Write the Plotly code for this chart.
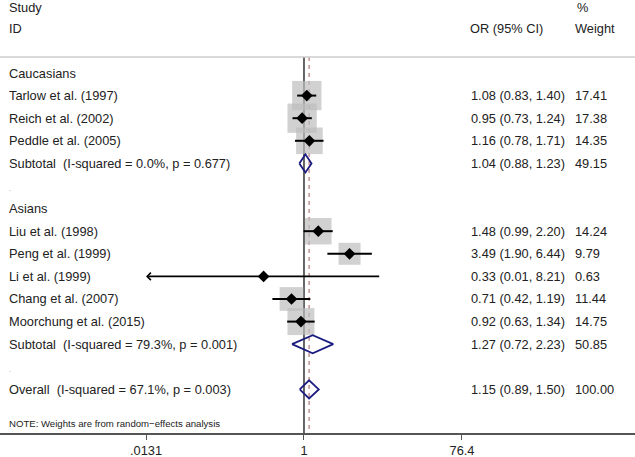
import math
import plotly.graph_objects as go

# ---- data ----
row_labels = ["Caucasians", "Tarlow et al. (1997)", "Reich et al. (2002)", "Peddle et al. (2005)",
              "Subtotal\u00a0\u00a0(I-squared = 0.0%, p = 0.677)", ".",
              "Asians", "Liu et al. (1998)", "Peng et al. (1999)", "Li et al. (1999)",
              "Chang et al. (2007)", "Moorchung et al. (2015)",
              "Subtotal\u00a0\u00a0(I-squared = 79.3%, p = 0.001)", ".",
              "Overall\u00a0\u00a0(I-squared = 67.1%, p = 0.003)"]

study_rows = [1, 2, 3, 7, 8, 9, 10, 11]
study_or = [1.08, 0.95, 1.16, 1.48, 3.49, 0.33, 0.71, 0.92]
study_lo = [0.83, 0.73, 0.78, 0.99, 1.90, 0.01, 0.42, 0.63]
study_hi = [1.40, 1.24, 1.71, 2.20, 6.44, 8.21, 1.19, 1.34]
study_wt = [17.41, 17.38, 14.35, 14.24, 9.79, 0.63, 11.44, 14.75]

pool_rows = [4, 12, 14]
pool_or = [1.04, 1.27, 1.15]
pool_lo = [0.88, 0.72, 0.89]
pool_hi = [1.23, 2.23, 1.50]
pool_wt = [49.15, 50.85, 100.00]

tick_vals = [0.0131, 1, 76.4]
tick_text = [".0131", "1", "76.4"]
overall_or = 1.15
axis_min = 0.0131

ROW_TOP, ROW_BOT = -3.23, 15.93
FONT = "Liberation Sans, Arial, sans-serif"
TXT = "#222222"
FS = 12.8

fig = go.Figure()

# reference lines (below boxes)
fig.add_trace(go.Scatter(x=[1, 1], y=[-0.71, ROW_BOT], mode="lines",
                         line=dict(color="black", width=1.2), hoverinfo="skip", showlegend=False))
fig.add_trace(go.Scatter(x=[overall_or, overall_or], y=[-0.71, ROW_BOT], mode="lines",
                         line=dict(color="#a85a5a", width=1, dash="4px,4px"), hoverinfo="skip", showlegend=False))

# weight boxes
sizes = [29.3 * math.sqrt(w / 17.41) for w in study_wt]
fig.add_trace(go.Scatter(x=study_or, y=study_rows, mode="markers",
                         marker=dict(symbol="square", size=sizes, color="#bdbdbd", line=dict(width=0)),
                         hoverinfo="skip", showlegend=False))

# CI lines
for o, lo, hi, r in zip(study_or, study_lo, study_hi, study_rows):
    if lo < axis_min:
        fig.add_annotation(x=math.log10(axis_min), y=r, ax=math.log10(hi), ay=r,
                           xref="x", yref="y", axref="x", ayref="y", text="",
                           showarrow=True, arrowhead=4, arrowsize=0.8, arrowwidth=1.8,
                           arrowcolor="black", standoff=0)
    else:
        fig.add_trace(go.Scatter(x=[lo, hi], y=[r, r], mode="lines",
                                 line=dict(color="black", width=2), hoverinfo="skip", showlegend=False))

# point estimates
fig.add_trace(go.Scatter(x=study_or, y=study_rows, mode="markers",
                         marker=dict(symbol="diamond", size=9, color="black"),
                         hoverinfo="skip", showlegend=False))

# pooled diamonds
for o, lo, hi, r in zip(pool_or, pool_lo, pool_hi, pool_rows):
    h = 0.4
    fig.add_trace(go.Scatter(x=[lo, o, hi, o, lo], y=[r, r - h, r, r + h, r], mode="lines",
                             line=dict(color="#1c1c80", width=1.8), hoverinfo="skip", showlegend=False))

# top separator
fig.add_shape(type="line", xref="paper", yref="y", x0=0, x1=1, y0=-0.71, y1=-0.71,
              line=dict(color="#cccccc", width=1.5))

def txt(x, y, s, size=FS, color=TXT):
    fig.add_annotation(x=x, y=y, xref="paper", yref="y", text=s, showarrow=False,
                       xanchor="left", yanchor="middle", font=dict(family=FONT, size=size, color=color))

LX, OX, WX = 7 / 635, 468.5 / 635, 572.5 / 635

# headers
txt(LX, -2.92, "Study")
txt(LX, -1.95, "ID")
txt(OX, -1.95, "OR (95% CI)")
txt(WX + 2 / 635, -2.92, "%")
txt(WX, -1.95, "Weight")

for i, lab in enumerate(row_labels):
    if lab == ".":
        txt(LX, i + 0.1, lab, size=8, color="#999999")
    else:
        txt(LX, i, lab)

all_rows = study_rows + pool_rows
all_or = study_or + pool_or
all_lo = study_lo + pool_lo
all_hi = study_hi + pool_hi
all_wt = study_wt + pool_wt
for r, o, lo, hi, w in zip(all_rows, all_or, all_lo, all_hi, all_wt):
    txt(OX, r, f"{o:.2f} ({lo:.2f}, {hi:.2f})")
    txt(WX, r, f"{w:.2f}")

txt(LX, 15.5, "NOTE: Weights are from random\u2212effects analysis", size=9.6)

fig.update_layout(
    width=635, height=457,
    margin=dict(l=0, r=0, t=0, b=24),
    plot_bgcolor="white", paper_bgcolor="white",
    showlegend=False,
    xaxis=dict(type="log", range=[-3.623, 3.945], showgrid=False, zeroline=False,
               showline=True, linecolor="#555555", linewidth=1.5,
               ticks="outside", ticklen=5, tickwidth=1, tickcolor="#555555",
               tickvals=tick_vals, ticktext=tick_text,
               tickfont=dict(family=FONT, size=FS, color=TXT)),
    yaxis=dict(range=[ROW_BOT, ROW_TOP], showgrid=False, zeroline=False, showline=False,
               showticklabels=False, ticks=""),
)

fig.write_html("out.html", config={"displayModeBar": False},
               post_script="document.body.style.margin='0';document.body.style.padding='0';")
